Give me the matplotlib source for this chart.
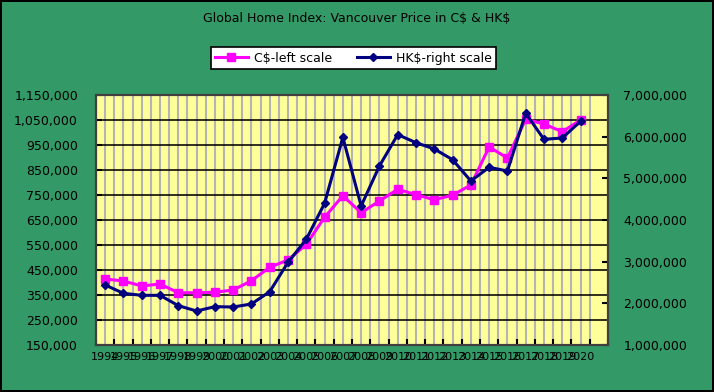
import matplotlib
matplotlib.use("Agg")
import matplotlib.pyplot as plt
from matplotlib.ticker import FuncFormatter, MultipleLocator, FixedLocator

years = [str(y) for y in range(1994, 2021)]

# C$ price, left scale
cad_price = [414000, 406000, 386000, 394000, 359000, 359000, 361000, 370000,
             407000, 461000, 490000, 552000, 661000, 747000, 679000, 726000,
             773000, 751000, 731000, 749000, 790000, 942000, 898000, 1053000,
             1034000, 1003000, 1050000]

# HK$ price, right scale
hkd_price = [2440000, 2240000, 2192000, 2192000, 1944000, 1816000, 1920000,
             1912000, 1984000, 2280000, 2984000, 3536000, 4400000, 5984000,
             4336000, 5296000, 6048000, 5856000, 5704000, 5448000, 4936000,
             5264000, 5176000, 6560000, 5936000, 5968000, 6368000]

left_ticks = list(range(150000, 1150001, 100000))

green = "#339966"
plt.rcParams['font.family'] = ['DejaVu Sans']

fig = plt.figure(figsize=(7.14, 3.92), dpi=100, facecolor=green,
                 edgecolor="black", linewidth=1.5)
ax1 = fig.add_axes([0.1345, 0.1199, 0.717, 0.6378])
ax1.set_facecolor("#FFFF99")

x = list(range(len(years)))
comma = FuncFormatter(lambda v, p: "{:,.0f}".format(v))

# left axis
ax1.set_xlim(-0.5, len(years) + 0.5)
ax1.set_ylim(left_ticks[0], left_ticks[-1])
ax1.set_yticks(left_ticks)
ax1.yaxis.set_major_formatter(comma)
ax1.grid(axis="y", color="black", linewidth=1.15, zorder=1)

ax1.set_xticks(x)
ax1.set_xticklabels(years)
ax1.xaxis.set_minor_locator(FixedLocator([i - 0.5 for i in range(len(years) + 2)]))
ax1.grid(axis="x", which="both", color="#B4B4B4", linewidth=1.5, zorder=0)
ax1.set_axisbelow(True)
ax1.tick_params(axis="x", which="major", length=0, pad=5, labelsize=8)
ax1.tick_params(axis="x", which="minor", length=4, width=1.5, direction="in")
ax1.tick_params(axis="y", length=4, width=1.5, direction="in", pad=13, labelsize=9)

l1, = ax1.plot(x, cad_price, color="#FF00FF", linewidth=2.2, marker="s",
               markersize=6, label="C$-left scale", zorder=3)

# right axis
ax2 = ax1.twinx()
ax2.set_ylim(1000000, 7000000)
ax2.yaxis.set_major_locator(MultipleLocator(1000000))
ax2.yaxis.set_major_formatter(comma)
ax2.tick_params(axis="y", length=4, width=1.5, direction="in", pad=11, labelsize=9)
l2, = ax2.plot(x, hkd_price, color="#000080", linewidth=2.2, marker="D",
               markersize=4.5, label="HK$-right scale", zorder=4)

for ax in (ax1, ax2):
    for s in ax.spines.values():
        s.set_color("#404040")
        s.set_linewidth(1.5)

fig.text(0.499, 0.954, "Global Home Index: Vancouver Price in C\\$ & HK\\$",
         ha="center", va="center", fontsize=9)

leg = fig.legend([l1, l2], ["C$-left scale", "HK$-right scale"], ncol=2,
                 loc="center", bbox_to_anchor=(0.495, 0.852), fontsize=9,
                 frameon=True, fancybox=False, framealpha=1, handlelength=2.6,
                 handletextpad=0.5, columnspacing=2.0, borderpad=0.35)
leg.get_frame().set_edgecolor("black")
leg.get_frame().set_linewidth(1.2)

plt.savefig("out.png", dpi=100, facecolor=green, edgecolor="black")
